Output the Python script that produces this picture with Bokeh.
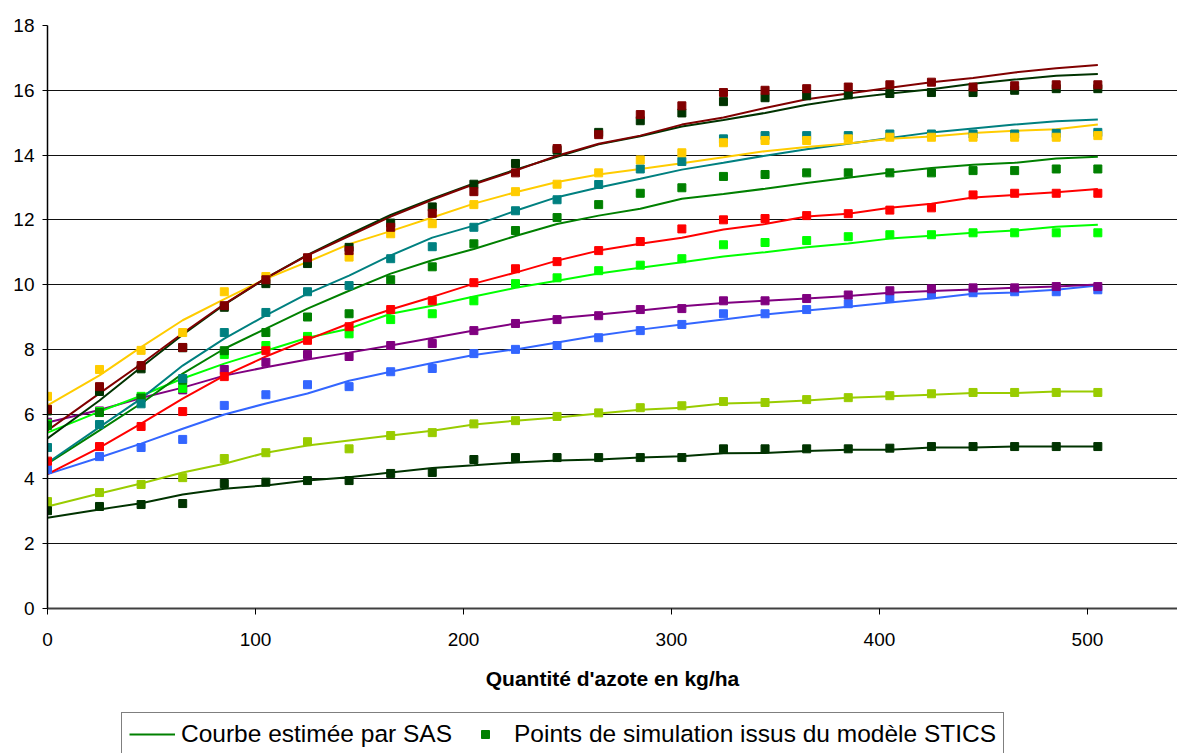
from bokeh.plotting import figure
from bokeh.models import Range1d, FixedTicker, Legend, LegendItem
from bokeh.layouts import column
from bokeh.embed import file_html
from bokeh.resources import INLINE

# ---------------- data ----------------
x_values = [0, 25, 45, 65, 85, 105, 125, 145, 165, 185, 205, 225, 245, 265,
            285, 305, 325, 345, 365, 385, 405, 425, 445, 465, 485, 505]

x_ticks = [0, 100, 200, 300, 400, 500]
y_ticks = [0, 2, 4, 6, 8, 10, 12, 14, 16, 18]

# STICS simulation points
pts_darkred = [6.15, 6.85, 7.5, 8.06, 9.35, 10.15, 10.83, 11.05, 11.77, 12.2, 12.87, 13.45, 14.2,
               14.63, 15.25, 15.52, 15.93, 16.0, 16.05, 16.1, 16.17, 16.25, 16.1, 16.14, 16.17, 16.17]
pts_darkgreen_top = [6.1, 6.7, 7.4, 8.05, 9.3, 10.03, 10.65, 11.15, 11.9, 12.4, 13.1, 13.74, 14.15,
                     14.7, 15.06, 15.3, 15.65, 15.77, 15.83, 15.86, 15.9, 15.93, 15.93, 16.0, 16.05, 16.05]
pts_yellow = [6.55, 7.38, 7.97, 8.52, 9.78, 10.25, 10.8, 10.85, 11.57, 11.88, 12.47, 12.87, 13.1,
              13.45, 13.85, 14.07, 14.38, 14.45, 14.45, 14.5, 14.55, 14.55, 14.55, 14.55, 14.55, 14.6]
pts_teal = [4.97, 5.68, 6.32, 7.1, 8.52, 9.14, 9.78, 9.97, 10.8, 11.17, 11.77, 12.28, 12.62,
            13.09, 13.57, 13.8, 14.5, 14.6, 14.6, 14.6, 14.65, 14.65, 14.65, 14.65, 14.67, 14.7]
pts_green = [5.65, 6.05, 6.5, 7.05, 7.96, 8.52, 9.0, 9.1, 10.15, 10.55, 11.26, 11.67, 12.07,
             12.47, 12.82, 12.99, 13.34, 13.4, 13.45, 13.45, 13.45, 13.45, 13.52, 13.52, 13.57, 13.57]
pts_red = [4.55, 5.0, 5.62, 6.08, 7.16, 7.96, 8.28, 8.7, 9.23, 9.5, 10.06, 10.49, 10.71,
           11.05, 11.33, 11.72, 12.0, 12.04, 12.13, 12.19, 12.3, 12.37, 12.77, 12.82, 12.82, 12.82]
pts_lime = [5.7, 6.08, 6.55, 6.8, 7.84, 8.12, 8.4, 8.48, 8.92, 9.1, 9.5, 10.03, 10.21,
            10.43, 10.6, 10.8, 11.23, 11.3, 11.36, 11.48, 11.54, 11.54, 11.6, 11.6, 11.6, 11.6]
pts_purple = [5.75, 6.1, 6.5, 6.75, 7.38, 7.6, 7.84, 7.78, 8.12, 8.18, 8.58, 8.8, 8.92,
              9.04, 9.23, 9.26, 9.5, 9.5, 9.57, 9.68, 9.81, 9.87, 9.9, 9.9, 9.94, 9.94]
pts_blue = [4.29, 4.69, 4.97, 5.22, 6.27, 6.6, 6.91, 6.85, 7.31, 7.41, 7.87, 8.0, 8.12,
            8.36, 8.58, 8.77, 9.1, 9.1, 9.23, 9.41, 9.57, 9.69, 9.75, 9.78, 9.78, 9.84]
pts_yellowgreen = [3.3, 3.58, 3.83, 4.04, 4.63, 4.81, 5.15, 4.93, 5.34, 5.43, 5.7, 5.8, 5.93,
                   6.04, 6.2, 6.26, 6.39, 6.36, 6.45, 6.51, 6.57, 6.63, 6.67, 6.67, 6.67, 6.67]
pts_darkgreen_bottom = [3.02, 3.15, 3.21, 3.24, 3.86, 3.9, 3.95, 3.95, 4.17, 4.2, 4.6, 4.66, 4.66,
                        4.66, 4.66, 4.66, 4.93, 4.93, 4.93, 4.93, 4.95, 5.0, 5.0, 5.0, 5.0, 5.0]

# SAS estimated curves
crv_darkred = [5.5, 6.64, 7.55, 8.5, 9.4, 10.2, 10.9, 11.5, 12.1, 12.62, 13.1, 13.52, 13.98,
               14.35, 14.6, 14.94, 15.16, 15.45, 15.72, 15.9, 16.08, 16.25, 16.38, 16.55, 16.68, 16.78]
crv_darkgreen_top = [5.25, 6.42, 7.45, 8.45, 9.38, 10.2, 10.92, 11.55, 12.15, 12.65, 13.12, 13.55, 13.95,
                     14.33, 14.58, 14.88, 15.08, 15.3, 15.55, 15.75, 15.9, 16.03, 16.2, 16.33, 16.45, 16.5]
crv_yellow = [6.27, 7.2, 8.07, 8.9, 9.55, 10.18, 10.7, 11.25, 11.65, 12.07, 12.5, 12.85, 13.17,
              13.4, 13.57, 13.75, 13.93, 14.12, 14.25, 14.36, 14.5, 14.57, 14.68, 14.75, 14.8, 14.94]
crv_teal = [4.5, 5.6, 6.48, 7.5, 8.33, 9.05, 9.72, 10.28, 10.9, 11.45, 11.82, 12.28, 12.7,
            13.0, 13.27, 13.55, 13.76, 13.98, 14.18, 14.35, 14.53, 14.7, 14.82, 14.94, 15.04, 15.1]
crv_green = [4.47, 5.5, 6.33, 7.25, 8.02, 8.64, 9.26, 9.81, 10.34, 10.75, 11.1, 11.5, 11.87,
             12.13, 12.34, 12.65, 12.8, 12.96, 13.14, 13.3, 13.46, 13.6, 13.7, 13.76, 13.89, 13.95]
crv_red = [4.15, 4.97, 5.71, 6.48, 7.19, 7.78, 8.3, 8.8, 9.23, 9.62, 10.03, 10.37, 10.74,
           11.05, 11.26, 11.45, 11.7, 11.87, 12.1, 12.19, 12.37, 12.5, 12.69, 12.77, 12.85, 12.95]
crv_lime = [5.43, 6.08, 6.57, 7.1, 7.56, 7.96, 8.36, 8.64, 9.1, 9.35, 9.63, 9.9, 10.12,
            10.34, 10.52, 10.69, 10.87, 11.0, 11.15, 11.27, 11.42, 11.51, 11.6, 11.67, 11.79, 11.85]
crv_purple = [5.74, 6.13, 6.5, 6.82, 7.19, 7.45, 7.69, 7.9, 8.12, 8.35, 8.58, 8.8, 8.96,
              9.08, 9.2, 9.33, 9.43, 9.5, 9.57, 9.65, 9.75, 9.8, 9.85, 9.9, 9.94, 10.0]
crv_blue = [4.15, 4.66, 5.09, 5.55, 5.99, 6.33, 6.64, 7.03, 7.31, 7.58, 7.83, 8.0, 8.21,
            8.43, 8.61, 8.77, 8.92, 9.08, 9.2, 9.32, 9.45, 9.57, 9.72, 9.76, 9.84, 9.97]
crv_yellowgreen = [3.15, 3.55, 3.86, 4.2, 4.47, 4.81, 5.03, 5.19, 5.34, 5.49, 5.68, 5.8, 5.9,
                   6.02, 6.14, 6.2, 6.33, 6.36, 6.42, 6.51, 6.55, 6.6, 6.65, 6.65, 6.7, 6.7]
crv_darkgreen_bottom = [2.8, 3.06, 3.25, 3.52, 3.7, 3.8, 3.95, 4.05, 4.2, 4.34, 4.42, 4.51, 4.57,
                        4.6, 4.66, 4.7, 4.79, 4.8, 4.86, 4.9, 4.9, 4.97, 4.97, 5.0, 5.0, 5.0]

series = [
    ("#003300", crv_darkgreen_bottom, pts_darkgreen_bottom),
    ("#99CC00", crv_yellowgreen, pts_yellowgreen),
    ("#3366FF", crv_blue, pts_blue),
    ("#800080", crv_purple, pts_purple),
    ("#00FF00", crv_lime, pts_lime),
    ("#FF0000", crv_red, pts_red),
    ("#008000", crv_green, pts_green),
    ("#008080", crv_teal, pts_teal),
    ("#FFCC00", crv_yellow, pts_yellow),
    ("#003300", crv_darkgreen_top, pts_darkgreen_top),
    ("#800000", crv_darkred, pts_darkred),
]

legend_labels = ["Courbe estimée par SAS", "Points de simulation issus du modèle STICS"]
x_title = "Quantité d'azote en kg/ha"

FONT = "Liberation Sans"

# ---------------- main figure ----------------
p = figure(width=1177, height=712,
           x_range=Range1d(0, 543.3), y_range=Range1d(0, 18),
           output_backend="svg", toolbar_location=None,
           min_border_left=47, min_border_right=0,
           min_border_top=25, min_border_bottom=104)
p.outline_line_color = None
p.background_fill_color = "white"
p.border_fill_color = "white"

p.xgrid.visible = False
p.ygrid.grid_line_color = "#111111"
p.ygrid.grid_line_width = 1
p.ygrid.ticker = FixedTicker(ticks=y_ticks)

p.xaxis.ticker = FixedTicker(ticks=x_ticks)
p.yaxis.ticker = FixedTicker(ticks=y_ticks)

for ax in (p.xaxis[0], p.yaxis[0]):
    ax.major_label_text_font = FONT
    ax.major_label_text_font_size = "19px"
    ax.major_label_text_color = "black"
    ax.minor_tick_line_color = None
    ax.major_tick_in = 0
    ax.major_tick_line_color = "black"

p.xaxis.axis_line_color = "#404040"
p.xaxis.axis_line_width = 2
p.xaxis.major_tick_out = 6
p.xaxis.major_label_standoff = 18
p.xaxis.axis_label = x_title
p.xaxis.axis_label_text_font = FONT
p.xaxis.axis_label_text_font_size = "21px"
p.xaxis.axis_label_text_font_style = "bold"
p.xaxis.axis_label_text_color = "black"
p.xaxis.axis_label_standoff = 18

p.yaxis.axis_line_color = "black"
p.yaxis.axis_line_width = 1.5
p.yaxis.major_tick_out = 5
p.yaxis.major_label_standoff = 8

for color, crv, pts in series:
    p.line(x_values, crv, line_color=color, line_width=2)
for color, crv, pts in series:
    p.scatter(x_values, pts, marker="square", size=8, fill_color=color, line_color=color)

# ---------------- legend strip below ----------------
lg = figure(width=1177, height=41,
            x_range=Range1d(0, 1177), y_range=Range1d(0, 41),
            output_backend="svg", toolbar_location=None,
            x_axis_type=None, y_axis_type=None,
            min_border_left=0, min_border_right=0, min_border_top=0, min_border_bottom=0)
lg.outline_line_color = None
lg.xgrid.visible = False
lg.ygrid.visible = False
lg.background_fill_color = "white"
lg.border_fill_color = "white"

# sample renderers kept outside the visible range (only their legend glyphs show)
l_dummy = lg.line([-50, -40], [-50, -50], line_color="#008000", line_width=2)
s_dummy = lg.scatter([-50], [-50], marker="square", size=8, fill_color="#008000", line_color="#008000")
legend = Legend(items=[LegendItem(label=legend_labels[0], renderers=[l_dummy]),
                       LegendItem(label=legend_labels[1], renderers=[s_dummy])],
                orientation="horizontal", location=(74, -3),
                glyph_width=46, glyph_height=20, label_standoff=6, spacing=10,
                padding=7, margin=0,
                label_text_font=FONT, label_text_font_size="24.5px", label_text_color="black",
                border_line_color="black", border_line_width=1,
                background_fill_color="white", background_fill_alpha=1.0)
lg.add_layout(legend, "center")

layout = column(p, lg, spacing=0)
open("out.html", "w").write(file_html(layout, INLINE))
